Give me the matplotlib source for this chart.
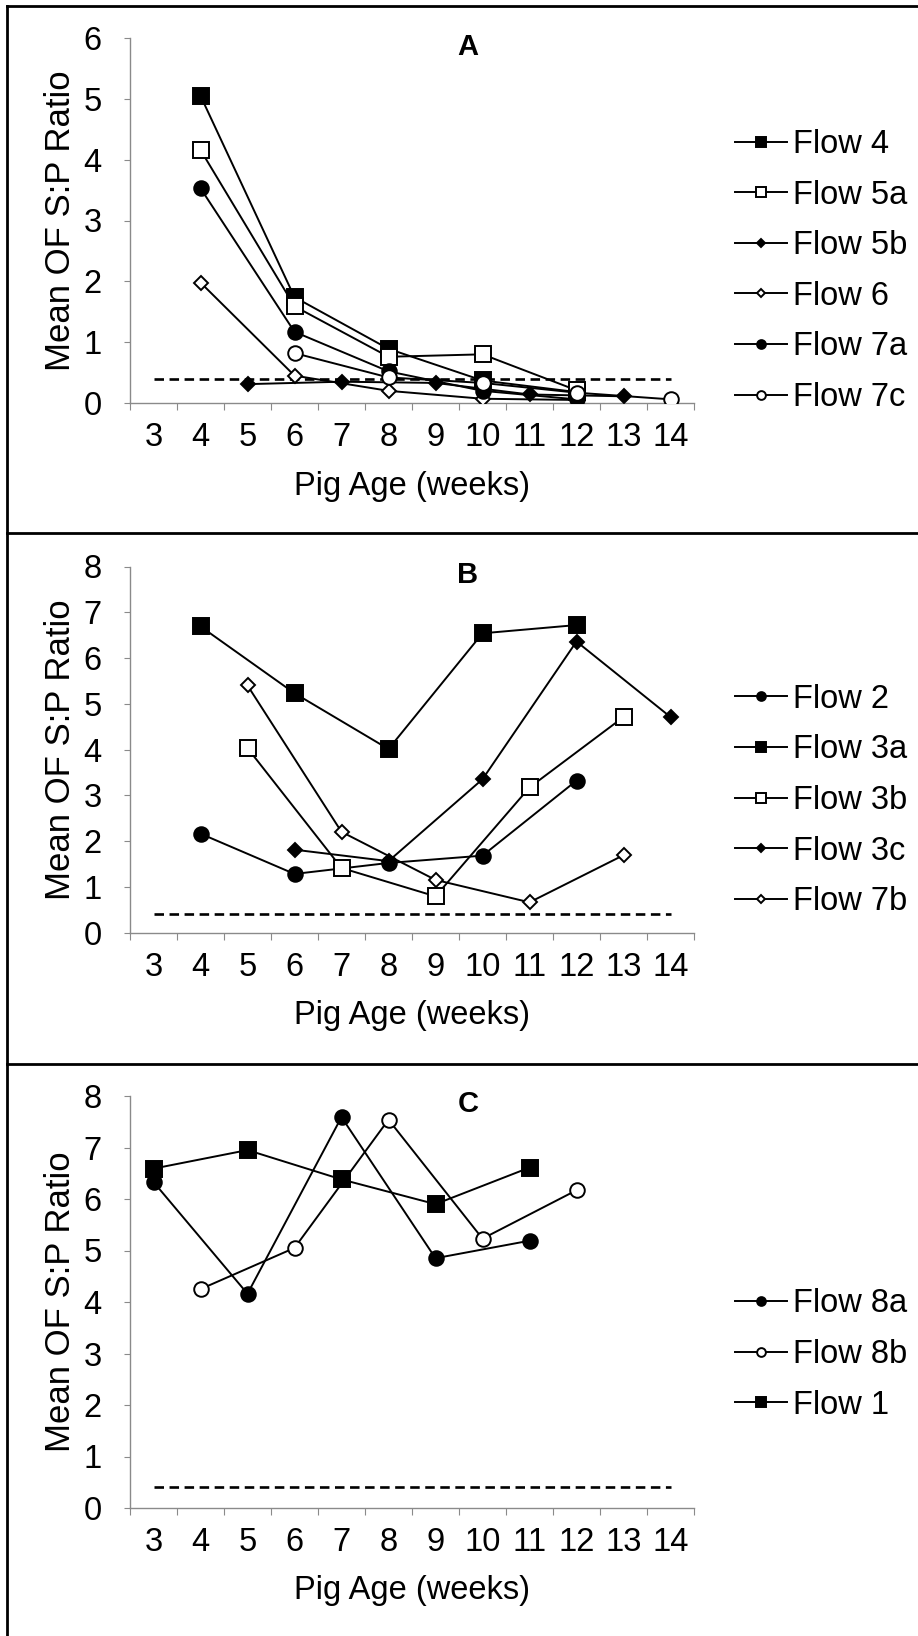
import numpy as np
import matplotlib.pyplot as plt
from matplotlib.lines import Line2D

plt.rcParams['font.family'] = ['Liberation Sans', 'DejaVu Sans']

weeks = list(range(3, 15))
cutoff = 0.4

# Panel A
a_flow4_x = [4, 6, 8, 10, 12]
a_flow4 = [5.05, 1.74, 0.89, 0.37, 0.18]
a_flow5a_x = [4, 6, 8, 10, 12]
a_flow5a = [4.16, 1.59, 0.76, 0.80, 0.21]
a_flow5b_x = [5, 7, 9, 11, 13]
a_flow5b = [0.31, 0.35, 0.33, 0.14, 0.11]
a_flow6_x = [4, 6, 8, 10, 12]
a_flow6 = [1.98, 0.45, 0.20, 0.07, 0.05]
a_flow7a_x = [4, 6, 8, 10, 12]
a_flow7a = [3.53, 1.17, 0.52, 0.20, 0.06]
a_flow7c_x = [6, 8, 10, 12, 14]
a_flow7c = [0.82, 0.42, 0.33, 0.17, 0.06]

# Panel B
b_flow2_x = [4, 6, 8, 10, 12]
b_flow2 = [2.16, 1.28, 1.52, 1.68, 3.32]
b_flow3a_x = [4, 6, 8, 10, 12]
b_flow3a = [6.69, 5.23, 4.01, 6.54, 6.72]
b_flow3b_x = [5, 7, 9, 11, 13]
b_flow3b = [4.03, 1.41, 0.79, 3.17, 4.71]
b_flow3c_x = [6, 8, 10, 12, 14]
b_flow3c = [1.81, 1.56, 3.35, 6.36, 4.71]
b_flow7b_x = [5, 7, 9, 11, 13]
b_flow7b = [5.40, 2.20, 1.15, 0.66, 1.69]

# Panel C
c_flow8a_x = [3, 5, 7, 9, 11]
c_flow8a = [6.33, 4.16, 7.59, 4.85, 5.19]
c_flow8b_x = [4, 6, 8, 10, 12]
c_flow8b = [4.25, 5.05, 7.54, 5.23, 6.17]
c_flow1_x = [3, 5, 7, 9, 11]
c_flow1 = [6.59, 6.95, 6.38, 5.90, 6.61]

# marker styles: (marker, face colour, size)
STYLES = {
    'sq_fill': ('s', 'black', 11),
    'sq_open': ('s', 'white', 11),
    'dia_fill': ('D', 'black', 7.5),
    'dia_open': ('D', 'white', 7.5),
    'ci_fill': ('o', 'black', 10.5),
    'ci_open': ('o', 'white', 10.5),
}

FS = 23.5
W, H = 918, 1636
AXIS_GREY = '#8a8a8a'

fig = plt.figure(figsize=(W / 100, H / 100), dpi=100)


def draw_panel(rect, letter, letter_y, ymax, series, legend_y):
    ax = fig.add_axes(rect)
    for label, x, y, key in series:
        m, fc, ms = STYLES[key]
        ax.plot(x, y, color='black', lw=1.4, marker=m, markersize=ms,
                markerfacecolor=fc, markeredgecolor='black',
                markeredgewidth=1.4, label=label, zorder=3)
    # detection cut-off
    ax.plot(weeks, [cutoff] * len(weeks), color='black', lw=1.9,
            linestyle=(0, (3.6, 2.1)), zorder=2)

    ax.set_xlim(2.5, 14.5)
    ax.set_ylim(0, ymax)
    ax.set_yticks(range(0, ymax + 1))
    ax.set_xticks(np.arange(2.5, 15, 1.0))
    ax.set_xticklabels([])
    ax.set_xticks(weeks, minor=True)
    ax.set_xticklabels([str(w) for w in weeks], minor=True)

    for s in ['top', 'right']:
        ax.spines[s].set_visible(False)
    for s in ['left', 'bottom']:
        ax.spines[s].set_color(AXIS_GREY)
        ax.spines[s].set_linewidth(1.0)
    ax.tick_params(axis='y', which='major', direction='out', length=4,
                   color=AXIS_GREY, labelsize=FS, pad=16.5)
    ax.tick_params(axis='x', which='major', direction='out', length=5,
                   color=AXIS_GREY)
    ax.tick_params(axis='x', which='minor', length=0, labelsize=FS, pad=14)

    pos = ax.get_position()
    ax_w = pos.width * W
    ax_h = pos.height * H
    ax.set_xlabel('Pig Age (weeks)', fontsize=FS)
    ax.xaxis.set_label_coords(0.5, -83 / ax_h)
    ax.xaxis.label.set_va('center')
    ax.set_ylabel('Mean OF S:P Ratio', fontsize=25)
    ax.yaxis.set_label_coords(-69 / ax_w, 0.5)
    ax.yaxis.label.set_va('center')

    fig.text(468 / W, 1 - letter_y / H, letter, fontsize=21,
             fontweight='bold', ha='center', va='center')

    ax.legend(loc='center left', bbox_to_anchor=(735 / W, 1 - legend_y / H),
              bbox_transform=fig.transFigure, frameon=False, fontsize=FS,
              borderpad=0, borderaxespad=0, handlelength=1.6,
              handletextpad=0.18, labelspacing=0.6, markerscale=0.6)
    return ax


draw_panel([130 / W, 1 - 403 / H, 564 / W, 365 / H], 'A', 47, 6, [
    ('Flow 4', a_flow4_x, a_flow4, 'sq_fill'),
    ('Flow 5a', a_flow5a_x, a_flow5a, 'sq_open'),
    ('Flow 5b', a_flow5b_x, a_flow5b, 'dia_fill'),
    ('Flow 6', a_flow6_x, a_flow6, 'dia_open'),
    ('Flow 7a', a_flow7a_x, a_flow7a, 'ci_fill'),
    ('Flow 7c', a_flow7c_x, a_flow7c, 'ci_open'),
], 271)

draw_panel([130 / W, 1 - 932.5 / H, 564 / W, 366 / H], 'B', 574.5, 8, [
    ('Flow 2', b_flow2_x, b_flow2, 'ci_fill'),
    ('Flow 3a', b_flow3a_x, b_flow3a, 'sq_fill'),
    ('Flow 3b', b_flow3b_x, b_flow3b, 'sq_open'),
    ('Flow 3c', b_flow3c_x, b_flow3c, 'dia_fill'),
    ('Flow 7b', b_flow7b_x, b_flow7b, 'dia_open'),
], 800.5)

draw_panel([130 / W, 1 - 1508 / H, 564 / W, 412 / H], 'C', 1104, 8, [
    ('Flow 8a', c_flow8a_x, c_flow8a, 'ci_fill'),
    ('Flow 8b', c_flow8b_x, c_flow8b, 'ci_open'),
    ('Flow 1', c_flow1_x, c_flow1, 'sq_fill'),
], 1354.5)

# panel frame: outer left/top edge plus separators
frame = dict(color='black', lw=2.0, transform=fig.transFigure)
fig.add_artist(Line2D([7 / W, 7 / W], [0, 1 - 6 / H], **frame))
fig.add_artist(Line2D([7 / W, 1], [1 - 6 / H, 1 - 6 / H], **frame))
for sep in [533, 1064]:
    fig.add_artist(Line2D([7 / W, 1], [1 - sep / H, 1 - sep / H], **frame))

fig.savefig('out.png', dpi=100)
